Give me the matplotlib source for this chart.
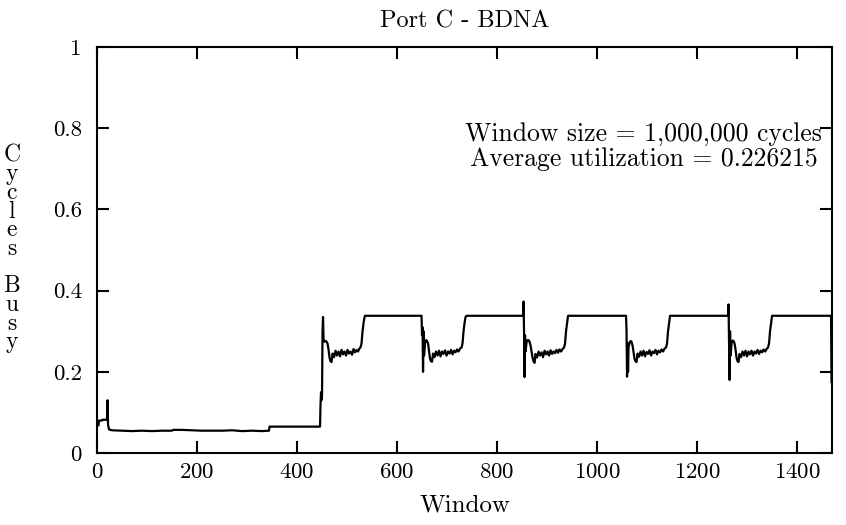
import matplotlib
matplotlib.use('Agg')
import matplotlib.pyplot as plt

plt.rcParams['font.family'] = ['cmr10', 'DejaVu Serif']
plt.rcParams['axes.formatter.use_mathtext'] = True

# low utilization at the start of the run
win_start = [0, 3, 4, 10, 11, 20, 21, 22, 24, 30, 50, 70, 90, 110, 130, 150, 152, 170,
             190, 210, 230, 250, 270, 290, 310, 330, 344, 345, 400, 445]
util_start = [0.068, 0.068, 0.08, 0.08, 0.082, 0.082, 0.13, 0.07, 0.058, 0.056, 0.055, 0.054,
              0.055, 0.054, 0.055, 0.055, 0.057, 0.057, 0.056, 0.055, 0.055, 0.055, 0.056,
              0.054, 0.055, 0.054, 0.055, 0.065, 0.065, 0.065]

# first jump up
win_a = [446, 447, 448, 449, 450, 451, 452, 453, 455, 458, 461, 463, 465, 467, 469, 471,
         474, 477, 480, 483, 486, 489, 492, 495, 498, 501, 504, 507, 510, 513, 516, 519,
         522, 525, 527, 529, 531, 533, 535, 536]
util_a = [0.065, 0.12, 0.15, 0.13, 0.145, 0.30, 0.335, 0.28, 0.274, 0.276, 0.27, 0.255,
          0.235, 0.226, 0.224, 0.245, 0.236, 0.252, 0.24, 0.25, 0.238, 0.254, 0.243, 0.25,
          0.24, 0.254, 0.245, 0.25, 0.242, 0.256, 0.248, 0.254, 0.25, 0.258, 0.26, 0.27,
          0.30, 0.32, 0.335, 0.338]

win_b = [649, 650, 651, 652, 653, 654, 656, 658, 660, 662, 664, 666, 668, 670,
         672, 675, 678, 681, 684, 687, 690, 693, 696, 699, 702, 705, 708, 711, 714, 717,
         720, 723, 726, 729, 731, 733, 735, 737, 739]
util_b = [0.338, 0.29, 0.31, 0.2, 0.3, 0.24, 0.27, 0.278, 0.276, 0.27, 0.25, 0.232, 0.226,
          0.225, 0.245, 0.236, 0.25, 0.24, 0.252, 0.238, 0.25, 0.244, 0.253, 0.24, 0.25,
          0.245, 0.254, 0.243, 0.252, 0.248, 0.255, 0.25, 0.257, 0.26, 0.27, 0.30, 0.32,
          0.335, 0.338]

win_c = [852, 853, 854, 855, 856, 857, 859, 861, 863, 865, 867, 869, 871, 873, 875,
         877, 880, 883, 886, 889, 892, 895, 898, 901, 904, 907, 910, 913, 916, 919, 922,
         925, 928, 931, 934, 936, 938, 940, 942]
util_c = [0.338, 0.373, 0.30, 0.187, 0.29, 0.25, 0.272, 0.278, 0.278, 0.274, 0.265, 0.25,
          0.235, 0.226, 0.222, 0.244, 0.235, 0.25, 0.24, 0.248, 0.236, 0.252, 0.243, 0.25,
          0.24, 0.253, 0.244, 0.25, 0.246, 0.254, 0.247, 0.255, 0.25, 0.256, 0.26, 0.27,
          0.30, 0.32, 0.338]

win_d = [1058, 1059, 1060, 1061, 1062, 1063, 1065, 1067, 1069, 1071, 1073, 1075, 1077, 1079,
         1081, 1084, 1087, 1090, 1093, 1096, 1099, 1102, 1105, 1108, 1111, 1114, 1117, 1120,
         1123, 1126, 1129, 1132, 1135, 1138, 1140, 1142, 1144, 1146]
util_d = [0.338, 0.30, 0.188, 0.27, 0.20, 0.26, 0.272, 0.276, 0.274, 0.265, 0.248, 0.232,
          0.226, 0.224, 0.245, 0.237, 0.25, 0.24, 0.252, 0.238, 0.249, 0.244, 0.253, 0.24,
          0.25, 0.246, 0.254, 0.243, 0.252, 0.248, 0.255, 0.25, 0.257, 0.26, 0.27, 0.30,
          0.32, 0.338]

win_e = [1262, 1263, 1264, 1265, 1266, 1267, 1269, 1271, 1273, 1275, 1277, 1279, 1281, 1283,
         1285, 1288, 1291, 1294, 1297, 1300, 1303, 1306, 1309, 1312, 1315, 1318, 1321, 1324,
         1327, 1330, 1333, 1336, 1339, 1342, 1344, 1346, 1348, 1350]
util_e = [0.338, 0.366, 0.28, 0.18, 0.30, 0.24, 0.27, 0.277, 0.276, 0.27, 0.255, 0.235,
          0.226, 0.224, 0.244, 0.236, 0.25, 0.24, 0.252, 0.238, 0.25, 0.243, 0.252, 0.24,
          0.25, 0.245, 0.254, 0.244, 0.252, 0.248, 0.255, 0.25, 0.256, 0.26, 0.27, 0.30,
          0.32, 0.338]

win_end = [1468, 1469]
util_end = [0.338, 0.175]

window = win_start + win_a + win_b + win_c + win_d + win_e + win_end
util = util_start + util_a + util_b + util_c + util_d + util_e + util_end

fig = plt.figure(figsize=(8.46, 5.25), dpi=100)
ax = fig.add_axes([0.1147, 0.1371, 0.8688, 0.7734])
ax.plot(window, util, color='black', lw=1.6)

ax.set_xlim(0, 1470)
ax.set_ylim(0, 1)
ax.set_xticks(range(0, 1401, 200))
ax.set_yticks([0, 0.2, 0.4, 0.6, 0.8, 1])
ax.set_yticklabels(['0', '0.2', '0.4', '0.6', '0.8', '1'])
ax.tick_params(direction='in', length=8.5, width=1.5, top=True, right=True,
               labelsize=16.5)
ax.tick_params(axis='x', pad=7)
ax.tick_params(axis='y', pad=11)
for s in ax.spines.values():
    s.set_linewidth(1.5)

ax.set_title('Port C - BDNA', fontsize=17.5, pad=14)
ax.set_xlabel('Window', fontsize=18, labelpad=9)
fig.text(0.014, 0.526, 'C\ny\nc\nl\ne\ns\n \nB\nu\ns\ny', fontsize=17,
         ha='center', va='center', linespacing=0.8)
ax.text(0.744, 0.755, 'Window size = 1,000,000 cycles\nAverage utilization = 0.226215',
        transform=ax.transAxes, ha='center', va='center', fontsize=18.5, linespacing=1.05)

fig.savefig('out.png', dpi=100)
